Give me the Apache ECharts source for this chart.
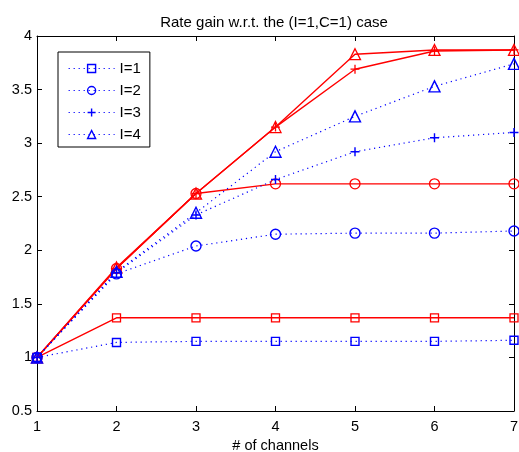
<!DOCTYPE html>
<html><head><meta charset="utf-8">
<script src="https://cdn.jsdelivr.net/npm/echarts@6/dist/echarts.min.js"></script>
<style>html,body{margin:0;padding:0;background:#fff}#c{width:519px;height:452px}</style>
</head><body><div id="c"></div>
<script>
var channels = [1, 2, 3, 4, 5, 6, 7];
var blueI1 = [1.0, 1.14, 1.15, 1.15, 1.15, 1.15, 1.16];
var blueI2 = [1.0, 1.78, 2.04, 2.15, 2.16, 2.16, 2.18];
var blueI3 = [1.0, 1.79, 2.33, 2.66, 2.92, 3.05, 3.10];
var blueI4 = [1.0, 1.80, 2.35, 2.92, 3.25, 3.53, 3.74];
var redI1 = [1.0, 1.37, 1.37, 1.37, 1.37, 1.37, 1.37];
var redI2 = [1.0, 1.83, 2.53, 2.62, 2.62, 2.62, 2.62];
var redI3 = [1.0, 1.83, 2.53, 3.15, 3.69, 3.86, 3.87];
var redI4 = [1.0, 1.84, 2.53, 3.15, 3.83, 3.87, 3.87];
var legendNames = ['I=1', 'I=2', 'I=3', 'I=4'];
var xTicks = [1, 2, 3, 4, 5, 6, 7];
var yTicks = [0.5, 1, 1.5, 2, 2.5, 3, 3.5, 4];

var plusPath = 'path://M0,5L10,5M5,0L5,10';
var symbols = ['rect', 'circle', plusPath, 'triangle'];
var symSizes = [8, 10, 9, 11];

function pairs(arr) { return channels.map(function (c, i) { return [c, arr[i]]; }); }

var FONT = 'Liberation Sans, Arial, sans-serif';
var blues = [blueI1, blueI2, blueI3, blueI4];
var reds = [redI1, redI2, redI3, redI4];
var series = [];
reds.forEach(function (d, i) {
  series.push({
    name: 'red' + (i + 1), type: 'line', data: pairs(d),
    symbol: symbols[i], symbolSize: symSizes[i], showSymbol: true,
    lineStyle: { color: '#ff0000', width: 1.4, type: 'solid' },
    itemStyle: { color: 'rgba(0,0,0,0)', borderColor: '#ff0000', borderWidth: 1.3 },
    emphasis: { disabled: true }, z: 2, animation: false
  });
});
blues.forEach(function (d, i) {
  series.push({
    name: legendNames[i], type: 'line', data: pairs(d),
    symbol: symbols[i], symbolSize: symSizes[i], showSymbol: true,
    lineStyle: { color: '#0000ff', width: 1.2, type: [1.2, 3.8] },
    itemStyle: { color: 'rgba(0,0,0,0)', borderColor: '#0000ff', borderWidth: 1.4 },
    emphasis: { disabled: true }, z: 3, animation: false
  });
});

var axisLineStyle = { lineStyle: { color: '#000', width: 1 } };
var tickStyle = { show: true, inside: true, length: 5, lineStyle: { color: '#000' } };
var labelStyle = { color: '#000', fontSize: 14.5, fontFamily: FONT };

var chart = echarts.init(document.getElementById('c'));
chart.setOption({
  animation: false,
  backgroundColor: '#fff',
  title: {
    text: 'Rate gain w.r.t. the (I=1,C=1) case', left: 269, top: 10, textAlign: 'center',
    textStyle: { fontSize: 15, fontWeight: 'normal', color: '#000', fontFamily: FONT }
  },
  grid: { left: 37, right: 5, top: 36, bottom: 41, containLabel: false, outerBoundsMode: 'none' },
  legend: {
    data: legendNames, orient: 'vertical', left: 58, top: 52,
    itemWidth: 46, itemHeight: 10, itemGap: 7,
    padding: [9, 9, 5, 10],
    backgroundColor: '#fff', borderColor: '#000', borderWidth: 1, borderRadius: 0,
    itemStyle: { color: 'rgba(0,0,0,0)', borderWidth: 1.4 },
    lineStyle: { type: [1.2, 3.8], width: 1.2 },
    textStyle: { fontSize: 15, lineHeight: 15, color: '#000', fontFamily: FONT },
    selectedMode: false
  },
  xAxis: [{
    type: 'value', min: xTicks[0], max: xTicks[xTicks.length - 1], interval: 1,
    name: '# of channels', nameLocation: 'middle', nameGap: 25,
    nameTextStyle: { color: '#000', fontSize: 14.5, fontFamily: FONT },
    axisLine: axisLineStyle, axisTick: tickStyle, splitLine: { show: false },
    axisLabel: Object.assign({ margin: 8 }, labelStyle)
  }, {
    type: 'value', position: 'top', min: xTicks[0], max: xTicks[xTicks.length - 1], interval: 1,
    axisLine: axisLineStyle, axisTick: tickStyle, splitLine: { show: false }, axisLabel: { show: false }
  }],
  yAxis: [{
    type: 'value', min: yTicks[0], max: yTicks[yTicks.length - 1], interval: 0.5,
    axisLine: Object.assign({ show: true }, axisLineStyle), axisTick: tickStyle, splitLine: { show: false },
    axisLabel: Object.assign({ margin: 5 }, labelStyle)
  }, {
    type: 'value', position: 'right', min: yTicks[0], max: yTicks[yTicks.length - 1], interval: 0.5,
    axisLine: Object.assign({ show: true }, axisLineStyle), axisTick: tickStyle, splitLine: { show: false },
    axisLabel: { show: false }
  }],
  series: series
});
</script></body></html>
